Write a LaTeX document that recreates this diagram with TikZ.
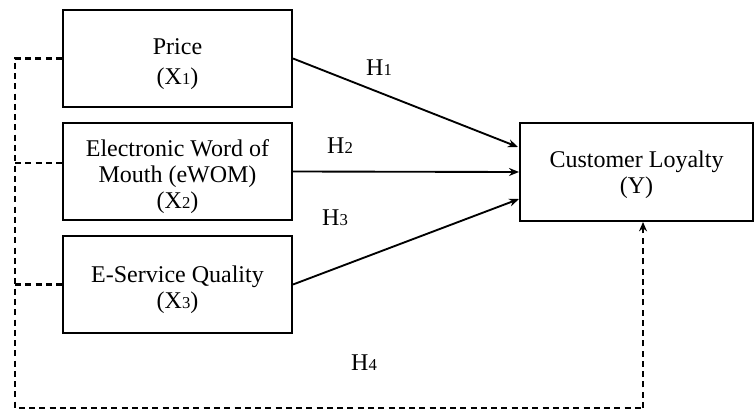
\documentclass[tikz,border=0pt]{standalone}
\usepackage{fontspec}
\setmainfont{Liberation Serif}
\usetikzlibrary{arrows.meta,calc}
\newcommand\smalldig[1]{{\fontsize{12.5pt}{12.5pt}\selectfont #1}}
\newcommand\boxtext[2][-8.3pt]{\raisebox{#1}[0pt][0pt]{\begin{tabular}{@{}c@{}}#2\end{tabular}}}
\begin{document}
\begin{tikzpicture}[x=0.75pt,y=-0.75pt,
  varbox/.style={draw,line width=1.5pt,minimum width=229*0.75pt,minimum height=97*0.75pt,
    inner sep=0pt,font=\fontsize{18pt}{19.5pt}\selectfont},
  hlabel/.style={inner sep=0pt,font=\fontsize{18pt}{20pt}\selectfont},
  solidarrow/.style={line width=1.4pt,-{Stealth[length=7.5pt,width=6pt]}},
  dashline/.style={line width=1.6pt,dash pattern=on 4.5pt off 3.2pt}
]
\useasboundingbox (0,0) rectangle (755,410);
\node[varbox] (price) at (177.5,58.5) {\boxtext[-9pt]{Price\\[3pt](X\smalldig{1})}};
\node[varbox] (ewom) at (177.5,171.5) {\boxtext{Electronic Word of\\Mouth (eWOM)\\(X\smalldig{2})}};
\node[varbox] (esq) at (177.5,284.5) {\boxtext{E-Service Quality\\(X\smalldig{3})}};
\node[varbox,minimum width=233*0.75pt,minimum height=98*0.75pt] (cl) at (636.5,172) {\boxtext[-6.8pt]{Customer Loyalty\\(Y)}};

\draw[solidarrow] (price.east) -- ($(cl.west)+(-1,-25)$);
\draw[solidarrow] (ewom.east) -- (cl.west);
\draw[solidarrow] (esq.east) -- ($(cl.west)+(0,27)$);

\node[hlabel] (h1) at (379,68) {H\smalldig{1}};
\node[hlabel] (h2) at (340,146) {H\smalldig{2}};
\node[hlabel] (h3) at (335,218) {H\smalldig{3}};
\node[hlabel] (h4) at (364,363) {H\smalldig{4}};

\coordinate (c1) at (15,58.5);
\coordinate (c2) at (15,163);
\coordinate (c3) at (15,284.5);
\coordinate (cb) at (15,408);
\coordinate (cr) at (643,408);
\draw[dashline] (price.west) -- (c1) -- (cb) -- (cr);
\draw[dashline] (c2) -- (ewom.west |- c2);
\draw[dashline] (c3) -- (esq.west);
\draw[dashline,-{Stealth[length=7pt,width=6pt]}] (cr) -- (cr |- cl.south);
\end{tikzpicture}
\end{document}
